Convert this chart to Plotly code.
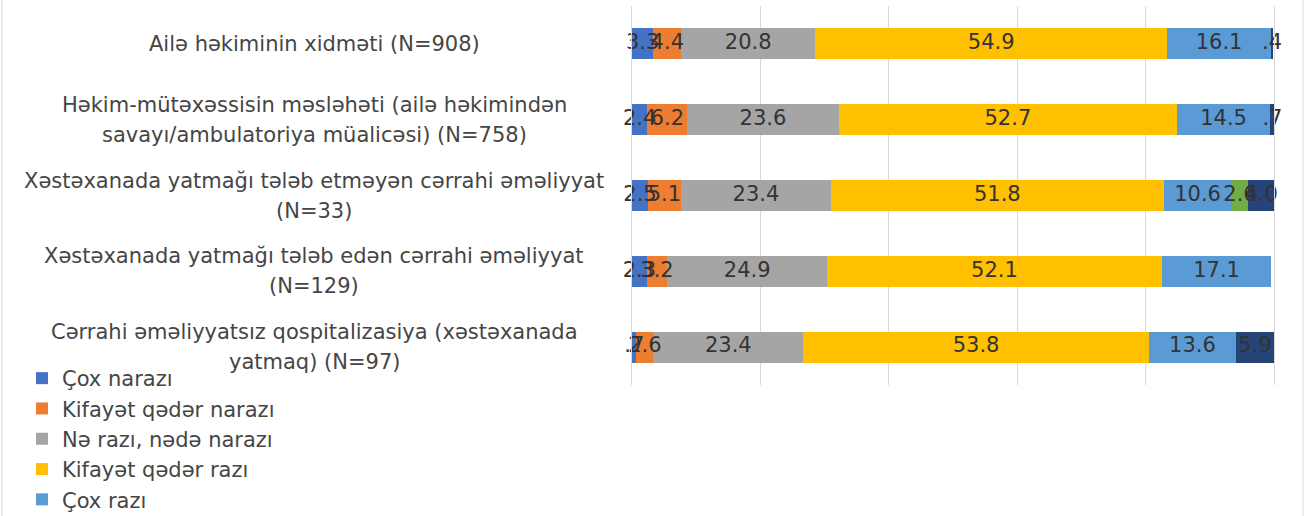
import plotly.graph_objects as go

categories = [
    "Ailə həkiminin xidməti (N=908)",
    "Həkim-mütəxəssisin məsləhəti (ailə həkimindən<br>savayı/ambulatoriya müalicəsi) (N=758)",
    "Xəstəxanada yatmağı tələb etməyən cərrahi əməliyyat<br>(N=33)",
    "Xəstəxanada yatmağı tələb edən cərrahi əməliyyat<br>(N=129)",
    "Cərrahi əməliyyatsız qospitalizasiya (xəstəxanada<br>yatmaq) (N=97)",
]

series_names = [
    "Çox narazı",
    "Kifayət qədər narazı",
    "Nə razı, nədə narazı",
    "Kifayət qədər razı",
    "Çox razı",
    "Cavab verməkdə çətinlik çəkirəm",
    "İmtina",
]

cox_narazi = [3.3, 2.4, 2.5, 2.3, 0.7]
kifayet_narazi = [4.4, 6.2, 5.1, 3.2, 2.6]
ne_razi = [20.8, 23.6, 23.4, 24.9, 23.4]
kifayet_razi = [54.9, 52.7, 51.8, 52.1, 53.8]
cox_razi = [16.1, 14.5, 10.6, 17.1, 13.6]
cavab_cetin = [0, 0, 2.6, 0, 0]
imtina = [0.4, 0.7, 4.0, 0, 5.9]

series_values = [cox_narazi, kifayet_narazi, ne_razi, kifayet_razi, cox_razi, cavab_cetin, imtina]
colors = ["#4472C4", "#ED7D31", "#A5A5A5", "#FFC000", "#5B9BD5", "#70AD47", "#264478"]

W, H = 1305, 516
ML, MR, MT, MB = 632, 31, 6, 131
PW = W - ML - MR
PH = H - MT - MB

FONT = "DejaVu Sans"


def fmt(v):
    if v == 0:
        return ""
    s = f"{v:.1f}"
    if v < 1:
        s = s.lstrip("0")
    return s


fig = go.Figure()
for i, (name, vals, col) in enumerate(zip(series_names, series_values, colors)):
    fig.add_trace(go.Bar(
        y=categories,
        x=vals,
        name=name,
        orientation="h",
        marker=dict(color=col, line=dict(width=0)),
        showlegend=i < 5,
        legendgroup=name,
        hoverinfo="x+name",
    ))

# data labels drawn on top of all bars (centered in each segment)
lab_x, lab_y, lab_t = [], [], []
for j, cat in enumerate(categories):
    base = 0.0
    for vals in series_values:
        v = vals[j]
        if v > 0:
            lab_x.append(base + v / 2)
            lab_y.append(cat)
            lab_t.append(fmt(v))
        base += v
fig.add_trace(go.Scatter(
    x=lab_x, y=lab_y, text=lab_t, mode="text",
    textposition="middle center",
    textfont=dict(family=FONT, size=21, color="#333333"),
    showlegend=False, hoverinfo="skip", cliponaxis=False,
))

annotations = []
for cat in categories:
    lines = cat.split("<br>")
    n = len(lines)
    for k, line in enumerate(lines):
        shift = (n - 1) * 15 - k * 30
        annotations.append(dict(
            text=line,
            x=(314 - ML) / PW,
            xref="paper",
            y=cat,
            yref="y",
            yshift=shift,
            xanchor="center",
            yanchor="middle",
            showarrow=False,
            font=dict(family=FONT, size=21, color="#454545"),
        ))

fig.update_layout(
    width=W,
    height=H,
    margin=dict(l=ML, r=MR, t=MT, b=MB, autoexpand=False),
    barmode="stack",
    bargap=0.59,
    paper_bgcolor="white",
    plot_bgcolor="white",
    xaxis=dict(
        range=[0, 100],
        dtick=20,
        showgrid=True,
        gridcolor="#D9D9D9",
        gridwidth=1,
        zeroline=False,
        showticklabels=False,
        showline=False,
        fixedrange=True,
    ),
    yaxis=dict(
        categoryorder="array",
        categoryarray=categories,
        autorange="reversed",
        showticklabels=False,
        showgrid=False,
        zeroline=False,
        showline=True,
        mirror=True,
        linecolor="#D9D9D9",
        linewidth=1,
        fixedrange=True,
    ),
    legend=dict(
        x=(22 - ML) / PW,
        xanchor="left",
        y=(H - MB - 358) / PH,
        yanchor="top",
        traceorder="normal",
        tracegroupgap=6,
        font=dict(family=FONT, size=21, color="#454545"),
        bgcolor="rgba(0,0,0,0)",
        itemwidth=30,
    ),
    annotations=annotations,
    shapes=[dict(
        type="rect", xref="paper", yref="paper",
        x0=(2 - ML) / PW, x1=(1303 - ML) / PW,
        y0=-1, y1=2,
        line=dict(color="#D9D9D9", width=1),
        layer="below",
    )],
)

fig.write_html(
    "out.html",
    config={"displayModeBar": False},
    post_script="document.body.style.margin='0px';document.body.style.overflow='hidden';",
)
